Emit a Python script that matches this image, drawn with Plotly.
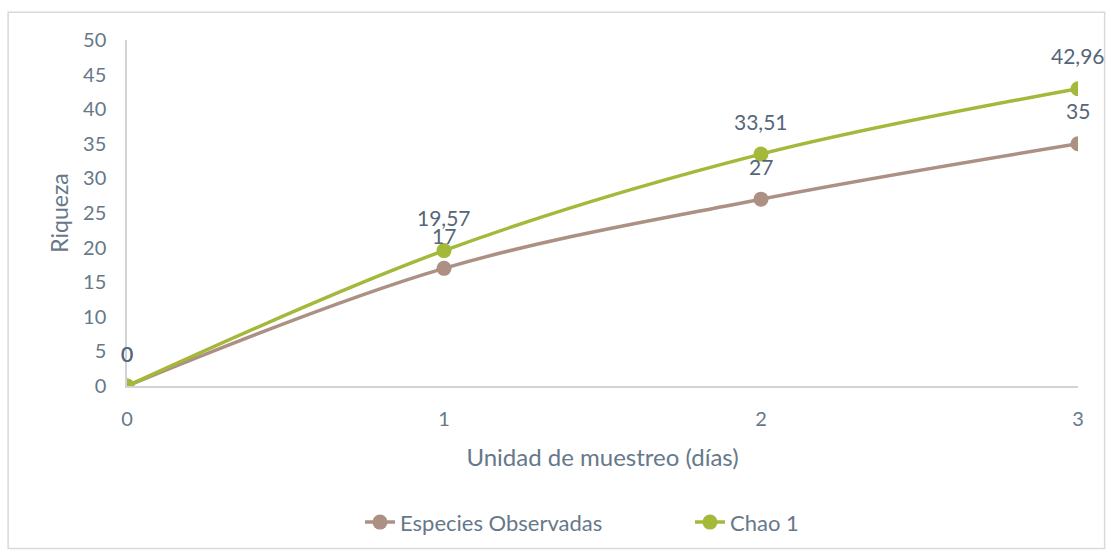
import plotly.graph_objects as go

# sampling units (days)
dias = [0, 1, 2, 3]
observadas = [0, 17, 27, 35]
chao1 = [0, 19.57, 33.51, 42.96]
chao1_txt = ["0", "19,57", "33,51", "42,96"]
observadas_txt = ["0", "17", "27", "35"]

COL_OBS = "#AD9084"
COL_CHAO = "#A4B83A"
TXT = "#66788A"

fig = go.Figure()
fig.add_trace(go.Scatter(
    x=dias, y=observadas, name="Especies Observadas",
    mode="lines+markers", line=dict(color=COL_OBS, width=3.5, shape="spline"),
    marker=dict(size=15, color=COL_OBS),
))
fig.add_trace(go.Scatter(
    x=dias, y=chao1, name="Chao 1",
    mode="lines+markers", line=dict(color=COL_CHAO, width=3.5, shape="spline"),
    marker=dict(size=15, color=COL_CHAO),
))

# data labels above the points
for xs, ys, labels in [(dias, observadas, observadas_txt), (dias, chao1, chao1_txt)]:
    for x, y, t in zip(xs, ys, labels):
        fig.add_annotation(x=x, y=y, text=t, showarrow=False, yshift=33,
                           font=dict(size=21, color="#56667A"))

# chart border
fig.add_shape(type="rect", xref="paper", yref="paper",
              x0=-0.125, x1=1.028, y0=-0.47, y1=1.08,
              line=dict(color="#D9D9D9", width=1.5))

fig.update_layout(
    width=1111, height=556,
    paper_bgcolor="white", plot_bgcolor="white",
    margin=dict(l=127, r=33, t=40, b=168),
    font=dict(family="Lato", size=20, color=TXT),
    showlegend=True,
    legend=dict(orientation="h", x=0.245, xanchor="left", y=-0.394, yanchor="middle",
                font=dict(size=22, color=TXT), entrywidth=285),
    xaxis=dict(
        range=[0, 3], tickvals=dias, showgrid=False, zeroline=False,
        showline=True, linecolor="#D0D4D8", linewidth=1.5,
        ticks="", tickfont=dict(size=20, color=TXT), ticklabelstandoff=14,
        title=dict(text="Unidad de muestreo (días)", font=dict(size=24, color=TXT), standoff=20),
    ),
    yaxis=dict(
        range=[0, 50], dtick=5, showgrid=False, zeroline=False,
        showline=True, linecolor="#D0D4D8", linewidth=1.5,
        ticks="", tickfont=dict(size=20, color=TXT), ticklabelstandoff=15,
        title=dict(text="Riqueza", font=dict(size=23, color=TXT), standoff=8),
    ),
)

fig.write_html("out.html", config={"displayModeBar": False},
               post_script="document.body.style.margin='0';")
